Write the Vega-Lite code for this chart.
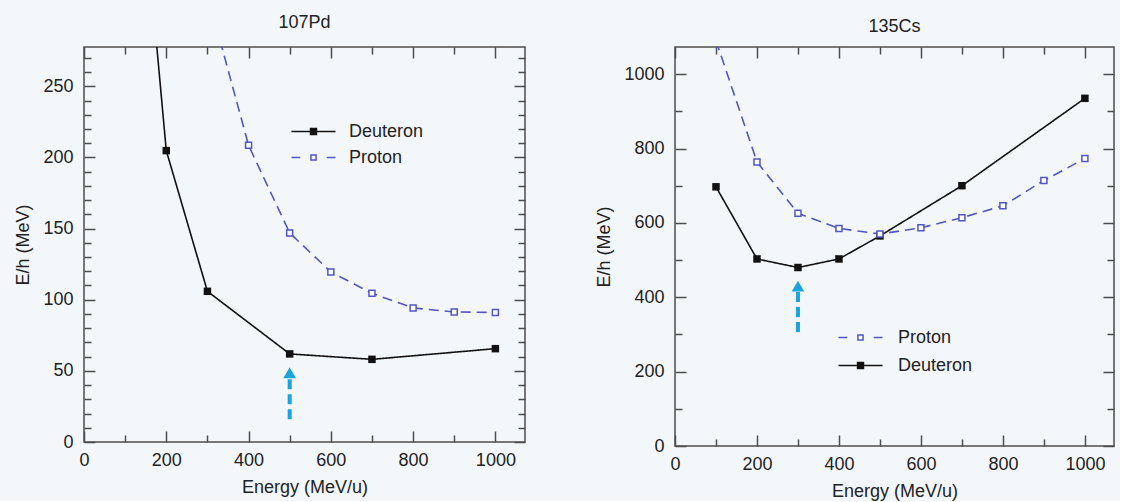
{
  "$schema": "https://vega.github.io/schema/vega-lite/v6.json",
  "background": "#f4f7fa",
  "padding": {"left": 14, "top": 13, "right": 4, "bottom": 0},
  "datasets": {
    "pd": [
      {"energy": 100, "eh": 522, "particle": "Deuteron"},
      {"energy": 200, "eh": 204.8, "particle": "Deuteron"},
      {"energy": 300, "eh": 105.9, "particle": "Deuteron"},
      {"energy": 500, "eh": 61.9, "particle": "Deuteron"},
      {"energy": 700, "eh": 58.1, "particle": "Deuteron"},
      {"energy": 1000, "eh": 65.6, "particle": "Deuteron"},
      {"energy": 300, "eh": 314.8, "particle": "Proton"},
      {"energy": 400, "eh": 208.5, "particle": "Proton"},
      {"energy": 500, "eh": 146.9, "particle": "Proton"},
      {"energy": 600, "eh": 119.5, "particle": "Proton"},
      {"energy": 700, "eh": 104.5, "particle": "Proton"},
      {"energy": 800, "eh": 94.2, "particle": "Proton"},
      {"energy": 900, "eh": 91.4, "particle": "Proton"},
      {"energy": 1000, "eh": 91.0, "particle": "Proton"}
    ],
    "cs": [
      {"energy": 100, "eh": 697, "particle": "Deuteron"},
      {"energy": 200, "eh": 503, "particle": "Deuteron"},
      {"energy": 300, "eh": 480, "particle": "Deuteron"},
      {"energy": 400, "eh": 503, "particle": "Deuteron"},
      {"energy": 500, "eh": 565, "particle": "Deuteron"},
      {"energy": 700, "eh": 700, "particle": "Deuteron"},
      {"energy": 1000, "eh": 935, "particle": "Deuteron"},
      {"energy": 100, "eh": 1090, "particle": "Proton"},
      {"energy": 200, "eh": 764, "particle": "Proton"},
      {"energy": 300, "eh": 626, "particle": "Proton"},
      {"energy": 400, "eh": 585, "particle": "Proton"},
      {"energy": 500, "eh": 570, "particle": "Proton"},
      {"energy": 600, "eh": 587, "particle": "Proton"},
      {"energy": 700, "eh": 614, "particle": "Proton"},
      {"energy": 800, "eh": 646, "particle": "Proton"},
      {"energy": 900, "eh": 714, "particle": "Proton"},
      {"energy": 1000, "eh": 773, "particle": "Proton"}
    ],
    "pdArrow": [{"energy": 500, "tail": 16, "base": 45, "head": 48.6}],
    "csArrow": [{"energy": 300, "tail": 306.5, "base": 416, "head": 430}]
  },
  "spacing": 68,
  "hconcat": [
    {
      "width": 441,
      "height": 395,
      "title": {"text": "107Pd", "offset": 14},
      "layer": [
        {
          "data": {"name": "pd"},
          "mark": {"type": "line", "clip": true, "strokeWidth": 1.6},
          "encoding": {
            "x": {"field": "energy", "type": "quantitative", "scale": {"domain": [0, 1072], "nice": false, "zero": false},
                  "axis": {"orient": "bottom", "values": [0, 200, 400, 600, 800, 1000], "format": "d", "tickSize": -11, "labelPadding": 20, "labelFlush": false, "title": "Energy (MeV/u)", "titlePadding": 9}},
            "y": {"field": "eh", "type": "quantitative", "scale": {"domain": [0, 277.6], "nice": false, "zero": false},
                  "axis": {"orient": "left", "values": [0, 50, 100, 150, 200, 250], "format": "d", "tickSize": -11, "labelPadding": 22, "labelFlush": false, "title": "E/h (MeV)", "titlePadding": 10}},
            "color": {"field": "particle", "type": "nominal", "scale": {"domain": ["Proton", "Deuteron"], "range": ["#5156c2", "#111111"]}, "legend": null},
            "strokeDash": {"field": "particle", "type": "nominal", "scale": {"domain": ["Proton", "Deuteron"], "range": [[10, 6], [1, 0]]}, "legend": null}
          }
        },
        {
          "data": {"name": "pd"},
          "transform": [{"filter": "datum.particle === 'Deuteron'"}],
          "mark": {"type": "point", "shape": "square", "filled": true, "color": "#111111", "size": 56, "opacity": 1, "clip": true},
          "encoding": {
            "x": {"field": "energy", "type": "quantitative", "axis": {"orient": "top", "values": [0, 200, 400, 600, 800, 1000], "tickSize": -11, "labels": false, "title": null}},
            "y": {"field": "eh", "type": "quantitative", "axis": {"orient": "right", "values": [0, 50, 100, 150, 200, 250], "tickSize": -11, "labels": false, "title": null}}
          }
        },
        {
          "data": {"name": "pd"},
          "transform": [{"filter": "datum.particle === 'Proton'"}],
          "mark": {"type": "point", "shape": "square", "filled": true, "fill": "#ffffff", "stroke": "#5156c2", "strokeWidth": 1.5, "size": 36, "opacity": 1, "clip": true},
          "encoding": {
            "x": {"field": "energy", "type": "quantitative", "axis": null},
            "y": {"field": "eh", "type": "quantitative", "axis": null}
          }
        },
        {
          "data": {"name": "pd"},
          "transform": [{"filter": "datum.energy < 0"}],
          "mark": {"type": "point", "opacity": 1, "strokeWidth": 1.5},
          "encoding": {
            "x": {"field": "energy", "type": "quantitative", "axis": {"orient": "bottom", "values": [100, 300, 500, 700, 900], "tickSize": -7, "labels": false, "title": null}},
            "y": {"field": "eh", "type": "quantitative", "axis": {"orient": "left", "values": [10, 20, 30, 40, 60, 70, 80, 90, 110, 120, 130, 140, 160, 170, 180, 190, 210, 220, 230, 240, 260, 270], "tickSize": -7, "labels": false, "title": null}},
            "shape": {"field": "particle", "type": "nominal", "scale": {"domain": ["Deuteron", "Proton"], "range": ["M-1.63,0H1.63M-0.22,-0.22H0.22V0.22H-0.22Z", "M-1.63,0H-0.98M0.98,0H1.63M-0.19,-0.19H0.19V0.19H-0.19Z"]},
                      "legend": {"title": null, "orient": "none", "legendX": 215, "legendY": 70, "symbolSize": 729, "symbolStrokeWidth": 1.5, "labelFontSize": 18, "labelFont": "Liberation Sans", "labelColor": "#222222", "labelOffset": 21, "rowPadding": 2, "padding": 0}},
            "fill": {"field": "particle", "type": "nominal", "scale": {"domain": ["Deuteron", "Proton"], "range": ["#111111", "#ffffff"]},
                     "legend": {"title": null, "orient": "none", "legendX": 215, "legendY": 70, "symbolSize": 729, "symbolStrokeWidth": 1.5, "labelFontSize": 18, "labelFont": "Liberation Sans", "labelColor": "#222222", "labelOffset": 21, "rowPadding": 2, "padding": 0}},
            "stroke": {"field": "particle", "type": "nominal", "scale": {"domain": ["Deuteron", "Proton"], "range": ["#111111", "#5156c2"]},
                       "legend": {"title": null, "orient": "none", "legendX": 215, "legendY": 70, "symbolSize": 729, "symbolStrokeWidth": 1.5, "labelFontSize": 18, "labelFont": "Liberation Sans", "labelColor": "#222222", "labelOffset": 21, "rowPadding": 2, "padding": 0}}
          }
        },
        {
          "data": {"name": "pdArrow"},
          "mark": {"type": "rule", "color": "#1ba3dd", "strokeWidth": 4, "strokeDash": [10, 5]},
          "encoding": {
            "x": {"field": "energy", "type": "quantitative", "axis": {"orient": "top", "values": [100, 300, 500, 700, 900], "tickSize": -7, "labels": false, "title": null}},
            "y": {"field": "tail", "type": "quantitative", "axis": {"orient": "right", "values": [10, 20, 30, 40, 60, 70, 80, 90, 110, 120, 130, 140, 160, 170, 180, 190, 210, 220, 230, 240, 260, 270], "tickSize": -7, "labels": false, "title": null}},
            "y2": {"field": "base"}
          }
        },
        {
          "data": {"name": "pdArrow"},
          "mark": {"type": "point", "shape": "triangle-up", "filled": true, "color": "#1ba3dd", "size": 160, "opacity": 1},
          "encoding": {
            "x": {"field": "energy", "type": "quantitative", "axis": null},
            "y": {"field": "head", "type": "quantitative", "axis": null}
          }
        }
      ],
      "resolve": {"axis": {"x": "independent", "y": "independent"}}
    },
    {
      "width": 439,
      "height": 399,
      "title": {"text": "135Cs", "offset": 10},
      "layer": [
        {
          "data": {"name": "cs"},
          "mark": {"type": "line", "clip": true, "strokeWidth": 1.6},
          "encoding": {
            "x": {"field": "energy", "type": "quantitative", "scale": {"domain": [0, 1071], "nice": false, "zero": false},
                  "axis": {"orient": "bottom", "values": [0, 200, 400, 600, 800, 1000], "format": "d", "tickSize": -11, "labelPadding": 20, "labelFlush": false, "title": "Energy (MeV/u)", "titlePadding": 9}},
            "y": {"field": "eh", "type": "quantitative", "scale": {"domain": [0, 1073], "nice": false, "zero": false},
                  "axis": {"orient": "left", "values": [0, 200, 400, 600, 800, 1000], "format": "d", "tickSize": -11, "labelPadding": 22, "labelFlush": false, "title": "E/h (MeV)", "titlePadding": 10}},
            "color": {"field": "particle", "type": "nominal", "scale": {"domain": ["Deuteron", "Proton"], "range": ["#111111", "#5156c2"]}, "legend": null},
            "strokeDash": {"field": "particle", "type": "nominal", "scale": {"domain": ["Deuteron", "Proton"], "range": [[1, 0], [10, 6]]}, "legend": null}
          }
        },
        {
          "data": {"name": "cs"},
          "transform": [{"filter": "datum.particle === 'Deuteron'"}],
          "mark": {"type": "point", "shape": "square", "filled": true, "color": "#111111", "size": 56, "opacity": 1, "clip": true},
          "encoding": {
            "x": {"field": "energy", "type": "quantitative", "axis": {"orient": "top", "values": [0, 200, 400, 600, 800, 1000], "tickSize": -11, "labels": false, "title": null}},
            "y": {"field": "eh", "type": "quantitative", "axis": {"orient": "right", "values": [0, 200, 400, 600, 800, 1000], "tickSize": -11, "labels": false, "title": null}}
          }
        },
        {
          "data": {"name": "cs"},
          "transform": [{"filter": "datum.particle === 'Proton'"}],
          "mark": {"type": "point", "shape": "square", "filled": true, "fill": "#ffffff", "stroke": "#5156c2", "strokeWidth": 1.5, "size": 36, "opacity": 1, "clip": true},
          "encoding": {
            "x": {"field": "energy", "type": "quantitative", "axis": null},
            "y": {"field": "eh", "type": "quantitative", "axis": null}
          }
        },
        {
          "data": {"name": "cs"},
          "transform": [{"filter": "datum.energy < 0"}],
          "mark": {"type": "point", "opacity": 1, "strokeWidth": 1.5},
          "encoding": {
            "x": {"field": "energy", "type": "quantitative", "axis": {"orient": "bottom", "values": [100, 300, 500, 700, 900], "tickSize": -7, "labels": false, "title": null}},
            "y": {"field": "eh", "type": "quantitative", "axis": {"orient": "left", "values": [100, 300, 500, 700, 900], "tickSize": -7, "labels": false, "title": null}},
            "shape": {"field": "particle", "type": "nominal", "scale": {"domain": ["Proton", "Deuteron"], "range": ["M-1.63,0H-0.98M0.98,0H1.63M-0.19,-0.19H0.19V0.19H-0.19Z", "M-1.63,0H1.63M-0.22,-0.22H0.22V0.22H-0.22Z"]},
                      "legend": {"title": null, "orient": "none", "legendX": 171, "legendY": 276, "symbolSize": 729, "symbolStrokeWidth": 1.5, "labelFontSize": 18, "labelFont": "Liberation Sans", "labelColor": "#222222", "labelOffset": 23, "rowPadding": 4, "padding": 0}},
            "fill": {"field": "particle", "type": "nominal", "scale": {"domain": ["Proton", "Deuteron"], "range": ["#ffffff", "#111111"]},
                     "legend": {"title": null, "orient": "none", "legendX": 171, "legendY": 276, "symbolSize": 729, "symbolStrokeWidth": 1.5, "labelFontSize": 18, "labelFont": "Liberation Sans", "labelColor": "#222222", "labelOffset": 23, "rowPadding": 4, "padding": 0}},
            "stroke": {"field": "particle", "type": "nominal", "scale": {"domain": ["Proton", "Deuteron"], "range": ["#5156c2", "#111111"]},
                       "legend": {"title": null, "orient": "none", "legendX": 171, "legendY": 276, "symbolSize": 729, "symbolStrokeWidth": 1.5, "labelFontSize": 18, "labelFont": "Liberation Sans", "labelColor": "#222222", "labelOffset": 23, "rowPadding": 4, "padding": 0}}
          }
        },
        {
          "data": {"name": "csArrow"},
          "mark": {"type": "rule", "color": "#1ba3dd", "strokeWidth": 4, "strokeDash": [10, 5]},
          "encoding": {
            "x": {"field": "energy", "type": "quantitative", "axis": {"orient": "top", "values": [100, 300, 500, 700, 900], "tickSize": -7, "labels": false, "title": null}},
            "y": {"field": "tail", "type": "quantitative", "axis": {"orient": "right", "values": [100, 300, 500, 700, 900], "tickSize": -7, "labels": false, "title": null}},
            "y2": {"field": "base"}
          }
        },
        {
          "data": {"name": "csArrow"},
          "mark": {"type": "point", "shape": "triangle-up", "filled": true, "color": "#1ba3dd", "size": 160, "opacity": 1},
          "encoding": {
            "x": {"field": "energy", "type": "quantitative", "axis": null},
            "y": {"field": "head", "type": "quantitative", "axis": null}
          }
        }
      ],
      "resolve": {"axis": {"x": "independent", "y": "independent"}}
    }
  ],
  "resolve": {
    "scale": {"color": "independent", "fill": "independent", "stroke": "independent", "shape": "independent", "strokeDash": "independent"},
    "legend": {"color": "independent", "fill": "independent", "stroke": "independent", "shape": "independent", "strokeDash": "independent"}
  },
  "config": {
    "view": {"stroke": "#4d4d4d", "strokeWidth": 1.5},
    "font": "Liberation Sans",
    "axis": {"domain": false, "grid": false, "labelFont": "Liberation Sans", "labelFontSize": 18, "labelColor": "#222222", "titleFont": "Liberation Sans", "titleFontSize": 18, "titleFontWeight": "normal", "titleColor": "#222222", "tickColor": "#4d4d4d", "tickWidth": 1.5},
    "title": {"font": "Liberation Sans", "fontSize": 18, "fontWeight": "normal", "color": "#222222"}
  }
}
